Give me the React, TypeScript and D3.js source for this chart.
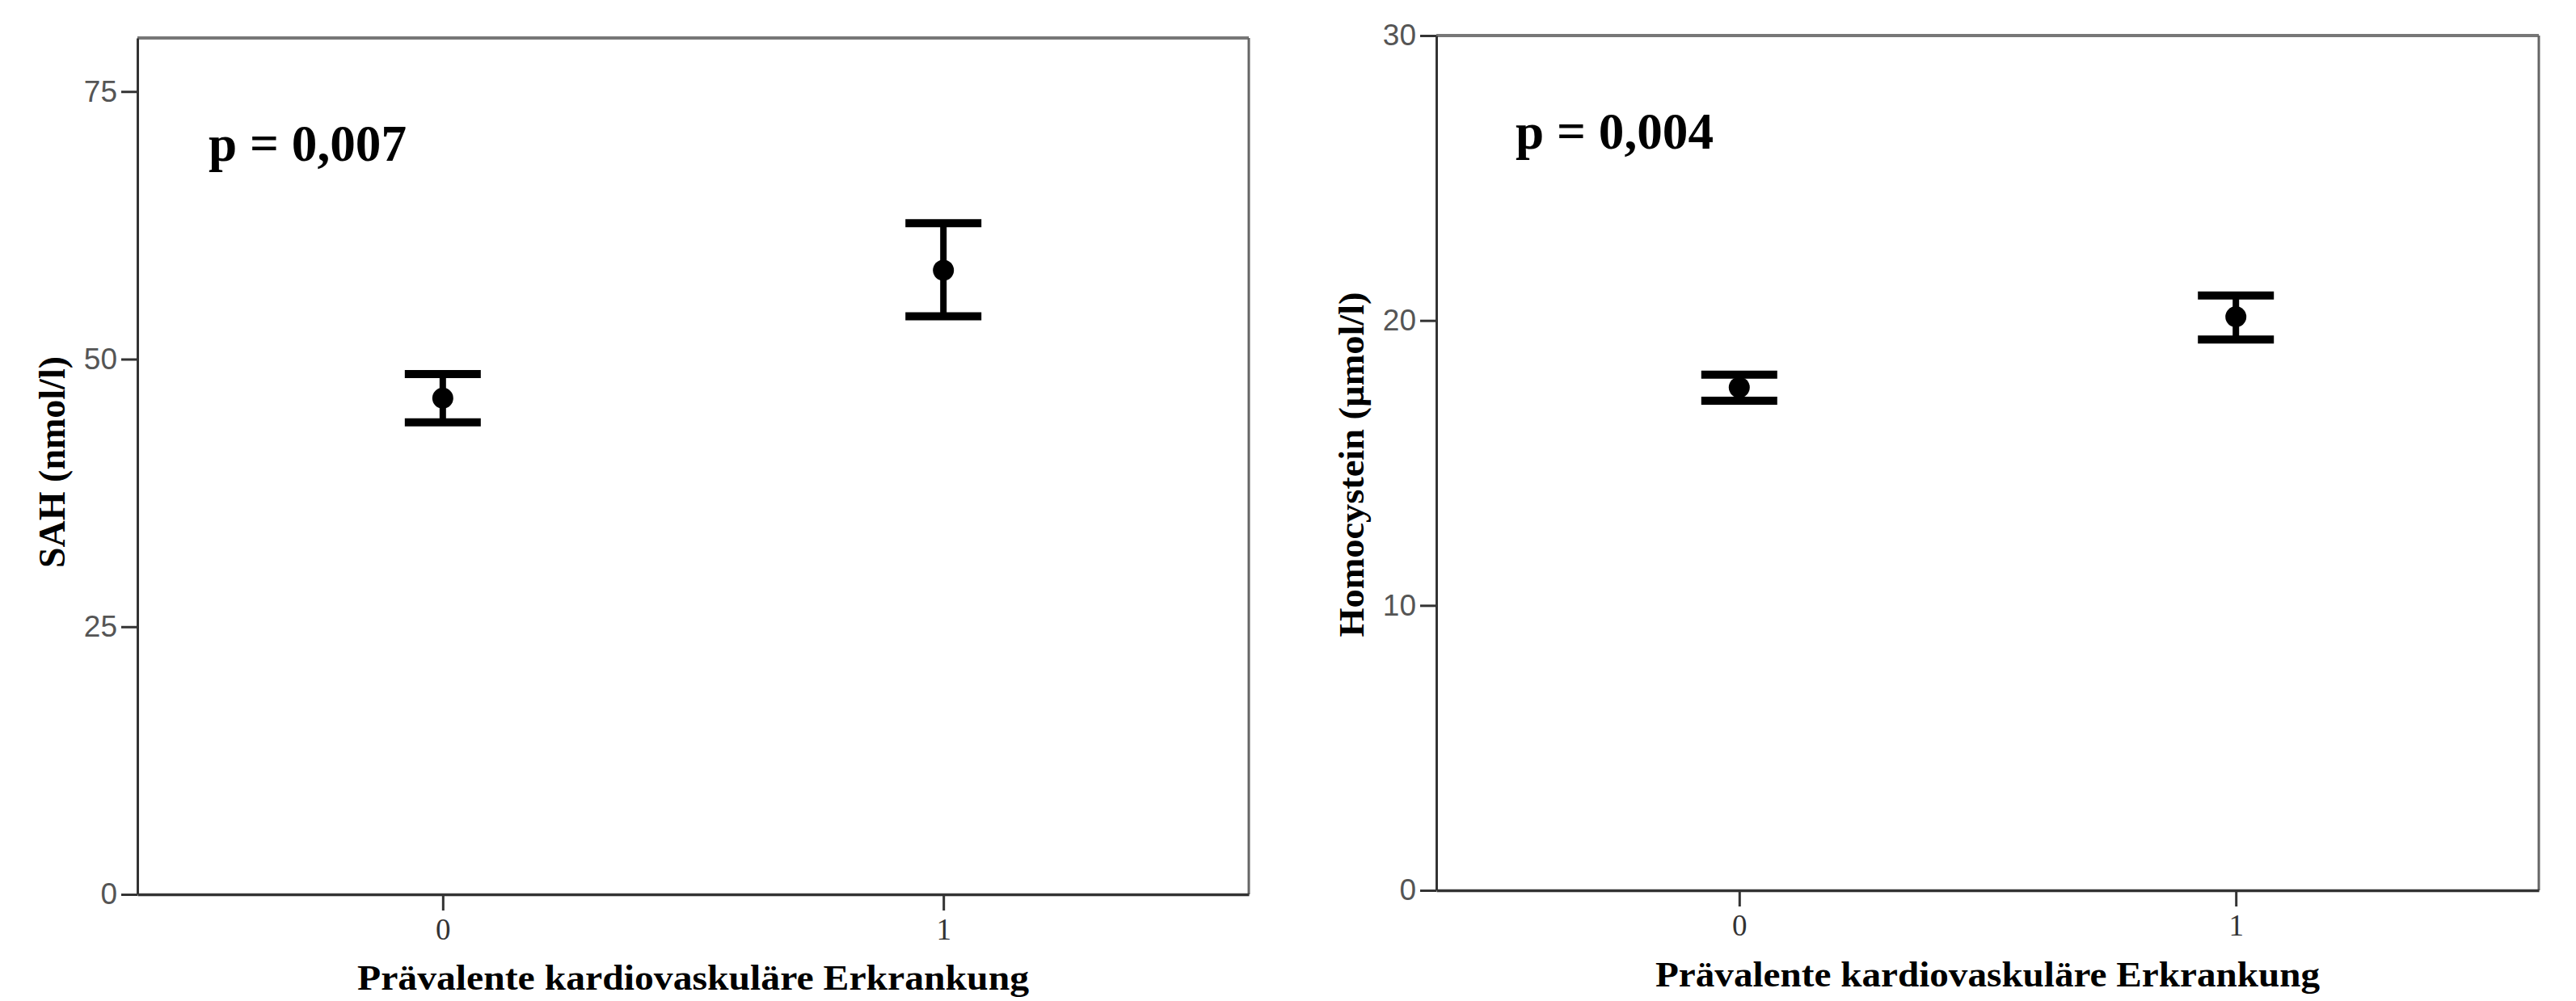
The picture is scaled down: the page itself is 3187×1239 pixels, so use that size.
import React, { useEffect, useRef } from 'react';
import * as d3 from 'd3';

// groups on the x axis
const categories = [0, 1];

// left panel: SAH (nmol/l)
const sahMean = [46.35, 58.3];
const sahLower = [44.1, 54.0];
const sahUpper = [48.6, 62.7];
const sahTicks = [0, 25, 50, 75];

// right panel: Homocystein (µmol/l)
const hcyMean = [17.65, 20.13];
const hcyLower = [17.18, 19.33];
const hcyUpper = [18.1, 20.88];
const hcyTicks = [0, 10, 20, 30];

const W = 3187;
const H = 1239;
const SERIF = '"Liberation Serif", "Times New Roman", serif';
const SANS = '"Liberation Sans", Arial, sans-serif';

const panels = [
  {
    left: 170, right: 1545, top: 47, bottom: 1107, yMax: 80,
    ticks: sahTicks, mean: sahMean, lower: sahLower, upper: sahUpper,
    yLabel: 'SAH (nmol/l)', yLabelX: 80, yLabelY: 572, yLabelSize: 47, yLabelLen: 262,
    pText: 'p = 0,007', pX: 258, pY: 199,
    xLabelY: 1225, xLabelLen: 831,
  },
  {
    left: 1777, right: 3141, top: 44, bottom: 1102, yMax: 30,
    ticks: hcyTicks, mean: hcyMean, lower: hcyLower, upper: hcyUpper,
    yLabel: 'Homocystein (µmol/l)', yLabelX: 1687, yLabelY: 575, yLabelSize: 45, yLabelLen: 427,
    pText: 'p = 0,004', pX: 1875, pY: 184,
    xLabelY: 1221, xLabelLen: 822,
  },
];

const xLabel = 'Prävalente kardiovaskuläre Erkrankung';

export default function App() {
  const ref = useRef<SVGSVGElement>(null);

  useEffect(() => {
    const svg = d3.select(ref.current);
    svg.selectAll('*').remove();

    svg.append('rect').attr('width', W).attr('height', H).attr('fill', '#fff');

    panels.forEach(p => {
      const x = d3.scaleLinear().domain([-0.61, 1.61]).range([p.left, p.right]);
      const y = d3.scaleLinear().domain([0, p.yMax]).range([p.bottom, p.top]);
      const g = svg.append('g');

      // frame: grey top and right edges
      g.append('line')
        .attr('x1', p.left).attr('x2', p.right)
        .attr('y1', p.top).attr('y2', p.top)
        .attr('stroke', '#777').attr('stroke-width', 4);
      g.append('line')
        .attr('x1', p.right).attr('x2', p.right)
        .attr('y1', p.top).attr('y2', p.bottom)
        .attr('stroke', '#666').attr('stroke-width', 3);

      // y axis
      const yAxis = g.append('g')
        .attr('transform', `translate(${p.left},0)`)
        .call(d3.axisLeft(y).tickValues(p.ticks).tickSize(20).tickSizeOuter(0).tickPadding(5));
      yAxis.select('.domain').attr('stroke', '#333').attr('stroke-width', 3);
      yAxis.selectAll('.tick line').attr('stroke', '#333').attr('stroke-width', 3);
      yAxis.selectAll('.tick text')
        .attr('fill', '#555')
        .style('font-family', SANS)
        .style('font-size', '37px');

      // x axis
      const xAxis = g.append('g')
        .attr('transform', `translate(0,${p.bottom})`)
        .call(d3.axisBottom(x).tickValues(categories).tickSize(20).tickSizeOuter(0)
          .tickPadding(10).tickFormat(d3.format('d')));
      xAxis.select('.domain').attr('stroke', '#333').attr('stroke-width', 3.5);
      xAxis.selectAll('.tick line').attr('stroke', '#333').attr('stroke-width', 3);
      xAxis.selectAll('.tick text')
        .attr('fill', '#333')
        .style('font-family', SERIF)
        .style('font-size', '37px');

      // error bars
      const bars = g.selectAll('g.bar')
        .data(categories)
        .enter()
        .append('g')
        .attr('class', 'bar');

      bars.append('line')
        .attr('x1', d => x(d)).attr('x2', d => x(d))
        .attr('y1', (d, i) => y(p.upper[i])).attr('y2', (d, i) => y(p.lower[i]))
        .attr('stroke', '#000').attr('stroke-width', 8);
      bars.append('line')
        .attr('x1', d => x(d) - 47).attr('x2', d => x(d) + 47)
        .attr('y1', (d, i) => y(p.upper[i])).attr('y2', (d, i) => y(p.upper[i]))
        .attr('stroke', '#000').attr('stroke-width', 10);
      bars.append('line')
        .attr('x1', d => x(d) - 47).attr('x2', d => x(d) + 47)
        .attr('y1', (d, i) => y(p.lower[i])).attr('y2', (d, i) => y(p.lower[i]))
        .attr('stroke', '#000').attr('stroke-width', 10);
      bars.append('circle')
        .attr('cx', d => x(d))
        .attr('cy', (d, i) => y(p.mean[i]))
        .attr('r', 13)
        .attr('fill', '#000');

      // p value
      g.append('text')
        .attr('x', p.pX).attr('y', p.pY)
        .attr('textLength', 245).attr('lengthAdjust', 'spacingAndGlyphs')
        .style('font-family', SERIF).style('font-weight', 'bold').style('font-size', '64px')
        .text(p.pText);

      // axis titles
      g.append('text')
        .attr('transform', `translate(${p.yLabelX},${p.yLabelY}) rotate(-90)`)
        .attr('text-anchor', 'middle')
        .attr('textLength', p.yLabelLen).attr('lengthAdjust', 'spacingAndGlyphs')
        .style('font-family', SERIF).style('font-weight', 'bold')
        .style('font-size', `${p.yLabelSize}px`)
        .text(p.yLabel);

      g.append('text')
        .attr('x', (p.left + p.right) / 2).attr('y', p.xLabelY)
        .attr('text-anchor', 'middle')
        .attr('textLength', p.xLabelLen).attr('lengthAdjust', 'spacingAndGlyphs')
        .style('font-family', SERIF).style('font-weight', 'bold').style('font-size', '45px')
        .text(xLabel);
    });
  }, []);

  return (
    <svg ref={ref} width={W} height={H}
      style={{ position: 'absolute', left: 0, top: 0, display: 'block' }} />
  );
}
